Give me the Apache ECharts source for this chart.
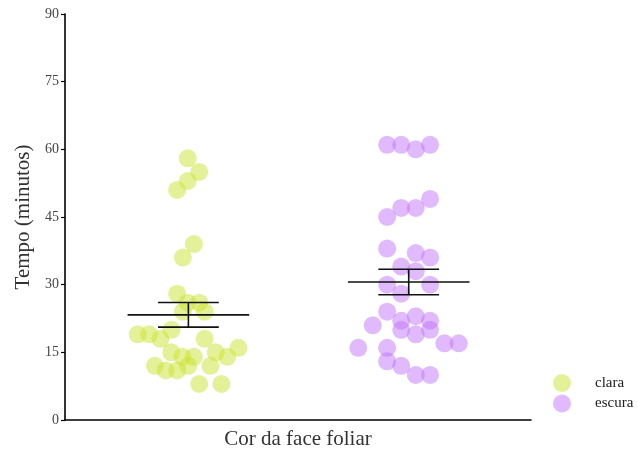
<!DOCTYPE html>
<html>
<head>
<meta charset="utf-8">
<script src="https://cdn.jsdelivr.net/npm/echarts@6/dist/echarts.min.js"></script>
<style>
  html, body { margin: 0; padding: 0; background: #fff; }
  #chart { width: 638px; height: 455px; }
</style>
</head>
<body>
<div id="chart"></div>
<script>
// Time (minutes) per leaf side colour; x = group position plus a small horizontal jitter
const groups = ['clara', 'escura'];
const yTicks = [0, 15, 30, 45, 60, 75, 90];

const claraTime = [58, 55, 53, 51, 39, 36, 28, 26, 26, 24, 24, 20, 19, 19, 18, 18, 15, 15, 16, 14, 14, 14, 12, 12, 11, 11, 12, 8, 8];
const claraJitter = [-0.003, 0.049, -0.003, -0.051, 0.025, -0.025, -0.051, -0.003, 0.049, -0.025, 0.074, -0.077, -0.230, -0.178, -0.127, 0.074, -0.078, 0.124, 0.227, -0.027, 0.025, 0.176, -0.152, 0.100, -0.103, -0.051, -0.001, 0.049, 0.150];

const escuraTime = [61, 61, 60, 61, 49, 47, 47, 45, 38, 37, 36, 34, 33, 30, 30, 28, 24, 21, 22, 23, 22, 20, 19, 20, 17, 17, 16, 16, 13, 12, 10, 10];
const escuraJitter = [-0.098, -0.034, 0.032, 0.097, 0.097, -0.034, 0.032, -0.098, -0.098, 0.032, 0.097, -0.034, 0.032, -0.098, 0.097, -0.034, -0.098, -0.163, -0.034, 0.032, 0.097, -0.034, 0.032, 0.097, 0.162, 0.227, -0.229, -0.098, -0.098, -0.034, 0.032, 0.097];

const colors = { clara: 'rgba(200,225,40,0.6)', escura: 'rgba(190,110,250,0.6)' };
const FONT = '"Liberation Serif", "DejaVu Serif", serif';

function points(pos, times, jitter) {
  return times.map((t, i) => [pos + jitter[i], t]);
}

// mean and standard error of the mean
function meanSe(vals) {
  const n = vals.length;
  const m = vals.reduce((a, b) => a + b, 0) / n;
  const v = vals.reduce((a, b) => a + (b - m) * (b - m), 0) / (n - 1);
  const se = Math.sqrt(v) / Math.sqrt(n);
  return [m, m - se, m + se];
}

const summary = [
  [1].concat(meanSe(claraTime)),
  [2].concat(meanSe(escuraTime))
];

const chart = echarts.init(document.getElementById('chart'), null, { renderer: 'canvas' });

chart.setOption({
  animation: false,
  backgroundColor: '#fff',
  grid: { left: 65, right: 107, top: 14, bottom: 33, containLabel: false },
  xAxis: {
    type: 'value', min: 0.44, max: 2.555,
    name: 'Cor da face foliar', nameLocation: 'middle', nameGap: 9,
    nameTextStyle: { fontFamily: FONT, fontSize: 21, color: '#333' },
    axisLine: { show: true, onZero: false, lineStyle: { color: '#000', width: 1.6 } },
    axisTick: { show: false }, axisLabel: { show: false }, splitLine: { show: false }
  },
  yAxis: {
    type: 'value', min: 0, max: 90, interval: 15,
    name: 'Tempo (minutos)', nameLocation: 'middle', nameGap: 31,
    nameTextStyle: { fontFamily: FONT, fontSize: 21, color: '#333' },
    axisLine: { show: true, lineStyle: { color: '#000', width: 1.6 } },
    axisTick: { show: true, length: 4, lineStyle: { color: '#000', width: 1.2 } },
    axisLabel: {
      fontFamily: FONT, fontSize: 14, color: '#444', margin: 6,
      formatter: v => (yTicks.indexOf(v) >= 0 ? String(v) : '')
    },
    splitLine: { show: false }
  },
  legend: {
    orient: 'vertical', left: 553, top: 374, padding: 0, itemGap: 2.5,
    itemWidth: 18, itemHeight: 18, icon: 'circle',
    textStyle: { fontFamily: FONT, fontSize: 15, color: '#222', padding: [0, 0, 0, 19] },
    data: groups
  },
  series: [
    {
      name: 'clara', type: 'scatter', symbolSize: 18,
      itemStyle: { color: colors.clara },
      data: points(1, claraTime, claraJitter), z: 2
    },
    {
      name: 'escura', type: 'scatter', symbolSize: 18,
      itemStyle: { color: colors.escura },
      data: points(2, escuraTime, escuraJitter), z: 2
    },
    {
      // mean line with standard-error bars for each group
      type: 'custom', z: 5, silent: true,
      data: summary,
      renderItem: function (params, api) {
        const x = api.value(0);
        const pm = api.coord([x, api.value(1)]);
        const pLo = api.coord([x, api.value(2)]);
        const pHi = api.coord([x, api.value(3)]);
        const meanHalf = api.size([0.276, 0])[0];
        const capHalf = api.size([0.138, 0])[0];
        const style = { stroke: '#111', lineWidth: 1.6 };
        return {
          type: 'group',
          children: [
            { type: 'line', shape: { x1: pm[0] - meanHalf, y1: pm[1], x2: pm[0] + meanHalf, y2: pm[1] }, style: style },
            { type: 'line', shape: { x1: pLo[0], y1: pLo[1], x2: pHi[0], y2: pHi[1] }, style: style },
            { type: 'line', shape: { x1: pHi[0] - capHalf, y1: pHi[1], x2: pHi[0] + capHalf, y2: pHi[1] }, style: style },
            { type: 'line', shape: { x1: pLo[0] - capHalf, y1: pLo[1], x2: pLo[0] + capHalf, y2: pLo[1] }, style: style }
          ]
        };
      }
    }
  ]
});
</script>
</body>
</html>
